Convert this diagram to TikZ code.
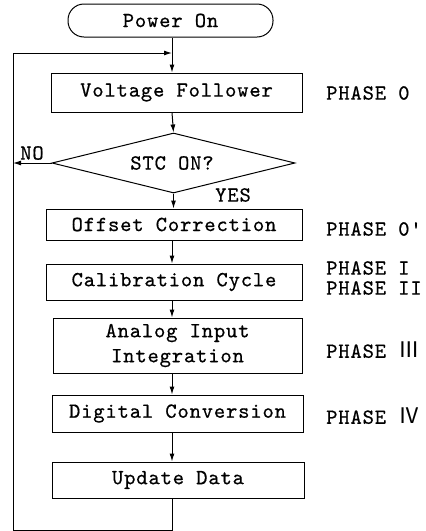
\documentclass[tikz,border=0pt]{standalone}
\usepackage{fontspec}
\setmonofont{lmmono10-regular.otf}[LetterSpace=4,FakeBold=0.6]
\newfontfamily\rnfont{Noto Sans CJK JP}
\usetikzlibrary{shapes.geometric,arrows.meta}
\begin{document}
\begin{tikzpicture}[x=1pt,y=-1pt,
  every node/.style={font=\fontsize{21.5}{25}\selectfont\ttfamily},
  stepbox/.style={draw,line width=1pt,rectangle,inner sep=0pt,align=center},
  termbox/.style={draw,line width=1pt,rectangle,rounded corners=16pt,inner sep=0pt},
  decbox/.style={draw,line width=1pt,diamond,inner sep=0pt,aspect=4.05},
  phase/.style={anchor=west,inner sep=0pt},
  lbl/.style={inner sep=0pt},
  arr/.style={line width=1pt,-{Latex[length=8pt,width=5pt]}},
  ln/.style={line width=1pt}]
\useasboundingbox (0,0) rectangle (426,531);

\coordinate (ax) at (172,0);
\coordinate (topj) at (172,53);
\coordinate (lt) at (13,53);
\coordinate (lb) at (13,530);
\coordinate (bot) at (172,530);
\coordinate (nol) at (13,163);

\node[termbox,minimum width=205pt,minimum height=33pt] (power) at (170.5,20.5) {Power On};
\node[stepbox,minimum width=251pt,minimum height=39pt] (vf) at (176.5,92.5) {Voltage Follower};
\node[decbox,minimum width=243pt,minimum height=60pt] (stc) at (173.5,163) {};
\node[lbl] (stct) at (172,163) {STC ON?};
\node[stepbox,minimum width=256pt,minimum height=31pt] (oc) at (174,224.5) {Offset Correction};
\node[stepbox,minimum width=256pt,minimum height=36pt] (cc) at (174,282) {Calibration Cycle};
\node[stepbox,minimum width=249pt,minimum height=55pt] (ai) at (177.5,345.5) {Analog Input\\Integration};
\node[stepbox,minimum width=251pt,minimum height=37pt] (dc) at (177.5,413.5) {Digital Conversion};
\node[stepbox,minimum width=252pt,minimum height=36pt] (ud) at (178,480) {Update Data};

\node[phase] (p0) at (326,93) {PHASE 0};
\node[phase] (p0p) at (326,229) {PHASE 0'};
\node[phase] (p1) at (326,268) {PHASE I};
\node[phase] (p2) at (326,288) {PHASE II};
\node[phase] (p3) at (326,350) {PHASE {\rnfont Ⅲ}};
\node[phase] (p4) at (326,416) {PHASE {\rnfont Ⅳ}};

\node[lbl] (no) at (32,153) {NO};
\node[lbl] (yes) at (233,195) {YES};

\draw[arr] (power.south -| ax) -- (vf.north -| ax);
\draw[arr] (vf.south -| ax) -- (stc.north);
\draw[arr] (stc.south) -- (oc.north -| stc.south);
\draw[arr] (oc.south -| ax) -- (cc.north -| ax);
\draw[arr] (cc.south -| ax) -- (ai.north -| ax);
\draw[arr] (ai.south -| ax) -- (dc.north -| ax);
\draw[arr] (dc.south -| ax) -- (ud.north -| ax);
\draw[arr] (stc.west) -- (nol);
\draw[ln] (ud.south -| ax) -- (bot) -- (lb) -- (lt);
\draw[arr] (lt) -- (topj);
\end{tikzpicture}
\end{document}
